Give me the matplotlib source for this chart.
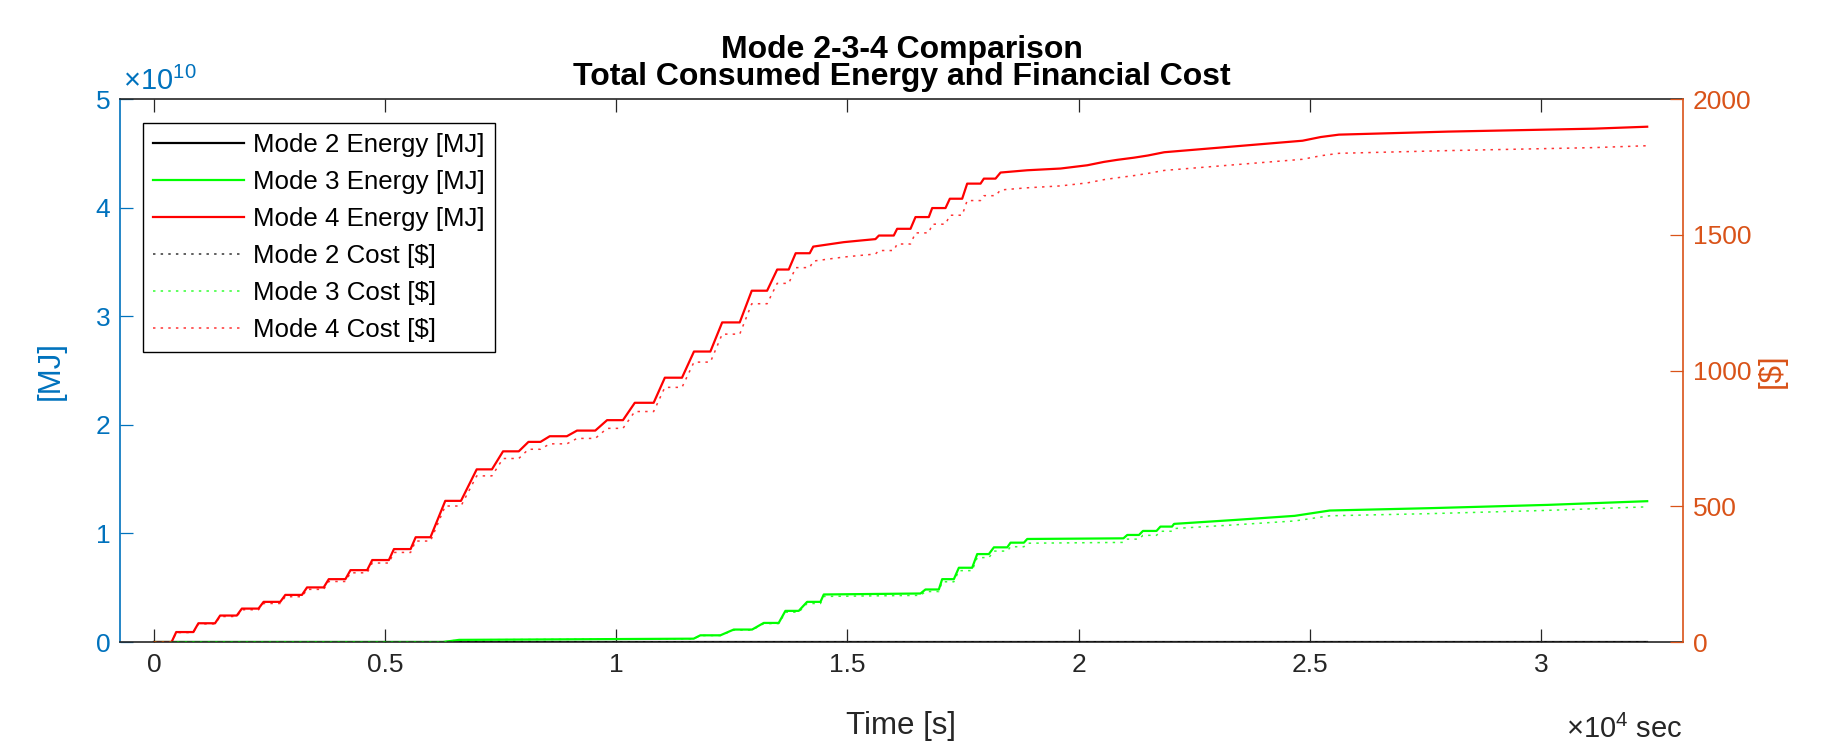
import numpy as np
import matplotlib
matplotlib.use('Agg')
import matplotlib.pyplot as plt
from matplotlib.ticker import FuncFormatter, MultipleLocator

plt.rcParams['font.family'] = ['Liberation Sans', 'DejaVu Sans']
plt.rcParams['mathtext.default'] = 'regular'

# cumulative energy [MJ] and cost [$] over simulation time [s]
mode2_t = [0, 32300]
mode2_energy = [0, 0]
mode2_cost = [0, 0]

mode3_t = [0, 6250, 6600, 11673, 11818, 12251, 12540, 12937, 13189, 13513, 13658, 13946,
           14127, 14416, 14488, 16580, 16688, 16977, 17049, 17302, 17410, 17698, 17807,
           18059, 18168, 18457, 18528, 18817, 18889, 20970, 21053, 21307, 21392, 21686,
           21770, 22021, 22065, 23411, 24675, 25433, 27623, 30152, 32300]
mode3_energy = [0, 0, 0.020, 0.031, 0.062, 0.062, 0.115, 0.115, 0.176, 0.176, 0.287, 0.287,
                0.370, 0.370, 0.438, 0.447, 0.484, 0.484, 0.579, 0.579, 0.684, 0.684, 0.810,
                0.810, 0.872, 0.872, 0.915, 0.915, 0.949, 0.955, 0.986, 0.986, 1.023, 1.023,
                1.063, 1.063, 1.088, 1.125, 1.162, 1.211, 1.233, 1.263, 1.297]  # x1e10 MJ
mode3_cost = [0, 0, 8, 12, 24, 24, 44, 44, 68, 68, 110, 110,
              142, 142, 168, 172, 186, 186, 222, 222, 263, 263, 311,
              311, 335, 335, 351, 351, 364, 367, 379, 379, 393, 393,
              408, 408, 418, 432, 446, 465, 473, 485, 498]

mode4_t = [0, 380, 480, 850, 960, 1320, 1430, 1790, 1900, 2260, 2370, 2730, 2840, 3200,
           3310, 3670, 3780, 4140, 4250, 4610, 4720, 5080, 5190, 5550, 5660, 5980, 6300,
           6640, 6980, 7310, 7550, 7890, 8100, 8360, 8560, 8930, 9150, 9545, 9800, 10144,
           10400, 10808, 11050, 11421, 11680, 12035, 12290, 12670, 12930, 13262, 13480,
           13730, 13880, 14184, 14260, 14920, 15281, 15606, 15680, 16002, 16075, 16364,
           16472, 16760, 16833, 17121, 17215, 17482, 17590, 17879, 17951, 18203, 18312,
           18889, 19610, 20188, 20548, 20837, 21200, 21500, 21853, 24844, 25238, 25632,
           27994, 31141, 32300]
mode4_energy = [0, 0, 0.092, 0.092, 0.173, 0.173, 0.244, 0.244, 0.308, 0.308, 0.370, 0.370,
                0.434, 0.434, 0.503, 0.503, 0.579, 0.579, 0.662, 0.662, 0.755, 0.755, 0.856,
                0.856, 0.965, 0.965, 1.300, 1.300, 1.590, 1.590, 1.756, 1.756, 1.843, 1.843,
                1.895, 1.895, 1.947, 1.947, 2.043, 2.043, 2.203, 2.203, 2.434, 2.434, 2.675,
                2.675, 2.943, 2.943, 3.235, 3.235, 3.430, 3.430, 3.580, 3.580, 3.641, 3.682,
                3.697, 3.710, 3.743, 3.743, 3.805, 3.805, 3.913, 3.913, 3.996, 3.996, 4.082,
                4.082, 4.221, 4.221, 4.267, 4.267, 4.323, 4.344, 4.360, 4.390, 4.421, 4.440,
                4.460, 4.480, 4.510, 4.616, 4.650, 4.672, 4.700, 4.727, 4.745]  # x1e10 MJ
mode4_cost = [0, 0, 35, 35, 67, 67, 94, 94, 119, 119, 142, 142,
              167, 167, 194, 194, 223, 223, 255, 255, 291, 291, 330,
              330, 372, 372, 501, 501, 612, 612, 676, 676, 710, 710,
              730, 730, 750, 750, 787, 787, 849, 849, 938, 938, 1031,
              1031, 1134, 1134, 1246, 1246, 1321, 1321, 1379, 1379, 1403, 1418,
              1424, 1429, 1442, 1442, 1466, 1466, 1507, 1507, 1539, 1539, 1572,
              1572, 1626, 1626, 1644, 1644, 1665, 1673, 1680, 1691, 1703, 1710,
              1718, 1726, 1737, 1778, 1791, 1800, 1810, 1821, 1828]

E_SCALE = 1e10
T_SCALE = 1e4

BLUE = (0.0, 0.447, 0.741)
ORANGE = (0.85, 0.325, 0.098)
GRAY = (0.15, 0.15, 0.15)
GREEN = (0.0, 1.0, 0.0)
RED = (1.0, 0.0, 0.0)

TICK_FS = 19
LABEL_FS = 22.5
dot = (0, (1.6, 3.4))

fig = plt.figure(figsize=(18.21, 7.49), dpi=100)
ax = fig.add_axes([0.0659, 0.1428, 0.8583, 0.7250])
ax2 = ax.twinx()

l2e, = ax.plot(mode2_t, np.array(mode2_energy) * E_SCALE, color='k', lw=1.6, label='Mode 2 Energy [MJ]')
l3e, = ax.plot(mode3_t, np.array(mode3_energy) * E_SCALE, color=GREEN, lw=1.6, label='Mode 3 Energy [MJ]')
l4e, = ax.plot(mode4_t, np.array(mode4_energy) * E_SCALE, color=RED, lw=1.6, label='Mode 4 Energy [MJ]')
l2c, = ax2.plot(mode2_t, mode2_cost, color='k', lw=1.1, ls=dot, alpha=0.8, label='Mode 2 Cost [\\$]')
l3c, = ax2.plot(mode3_t, mode3_cost, color=GREEN, lw=1.1, ls=dot, alpha=0.8, label='Mode 3 Cost [\\$]')
l4c, = ax2.plot(mode4_t, mode4_cost, color=RED, lw=1.1, ls=dot, alpha=0.8, label='Mode 4 Cost [\\$]')

ax.set_xlim(-736, 33074)
ax.set_ylim(0, 5 * E_SCALE)
ax2.set_ylim(0, 2000)

ax.xaxis.set_major_locator(MultipleLocator(5000))
ax.xaxis.set_major_formatter(FuncFormatter(lambda v, _: f'{v / T_SCALE:g}'))
ax.yaxis.set_major_locator(MultipleLocator(E_SCALE))
ax.yaxis.set_major_formatter(FuncFormatter(lambda v, _: f'{v / E_SCALE:g}'))
ax2.yaxis.set_major_locator(MultipleLocator(500))

# spines: blue left, orange right, gray box top/bottom
for a in (ax, ax2):
    for s in a.spines.values():
        s.set_linewidth(1.2)
ax.spines['left'].set_color(BLUE)
ax.spines['right'].set_visible(False)
ax.spines['top'].set_color(GRAY)
ax.spines['bottom'].set_color(GRAY)
ax2.spines['right'].set_color(ORANGE)
ax2.spines['left'].set_visible(False)
ax2.spines['top'].set_visible(False)
ax2.spines['bottom'].set_visible(False)

ax.tick_params(axis='x', direction='in', top=True, length=9.5, width=0.9, colors=GRAY,
               labelsize=TICK_FS, pad=8)
ax.tick_params(axis='y', direction='in', right=False, length=9.5, width=0.9, colors=BLUE,
               labelsize=TICK_FS, pad=7)
ax2.tick_params(axis='y', direction='in', length=9.5, width=0.9, colors=ORANGE,
                labelsize=TICK_FS, pad=7)

ax.set_xlabel('Time [s]', fontsize=LABEL_FS, color=GRAY)
ax.xaxis.set_label_coords(0.5, -0.127)
ax.set_ylabel('[MJ]', fontsize=LABEL_FS, color=BLUE)
ax.yaxis.set_label_coords(-0.035, 0.5)
ax2.set_ylabel('[\\$]', fontsize=LABEL_FS, color=ORANGE)
ax2.yaxis.set_label_coords(1.047, 0.5)

ax.text(0.002, 1.016, '×10$^{10}$', transform=ax.transAxes, ha='left', va='baseline',
        fontsize=21, color=BLUE)
ax.text(1.0, -0.176, '×10$^{4}$ sec', transform=ax.transAxes, ha='right', va='baseline',
        fontsize=21, color=GRAY)

ax.set_title('Mode 2-3-4 Comparison\nTotal Consumed Energy and Financial Cost',
             fontsize=23, fontweight='bold', color='k', pad=10, linespacing=0.86)

leg = ax2.legend(handles=[l2e, l3e, l4e, l2c, l3c, l4c], loc='upper left',
                 bbox_to_anchor=(0.0147, 0.9558), borderaxespad=0, fontsize=18.6,
                 frameon=True, fancybox=False, framealpha=1, edgecolor='k',
                 handlelength=3.5, handletextpad=0.35, labelspacing=0.5, borderpad=0.4)
leg.get_frame().set_linewidth(1.0)

fig.savefig('out.png', dpi=100)
